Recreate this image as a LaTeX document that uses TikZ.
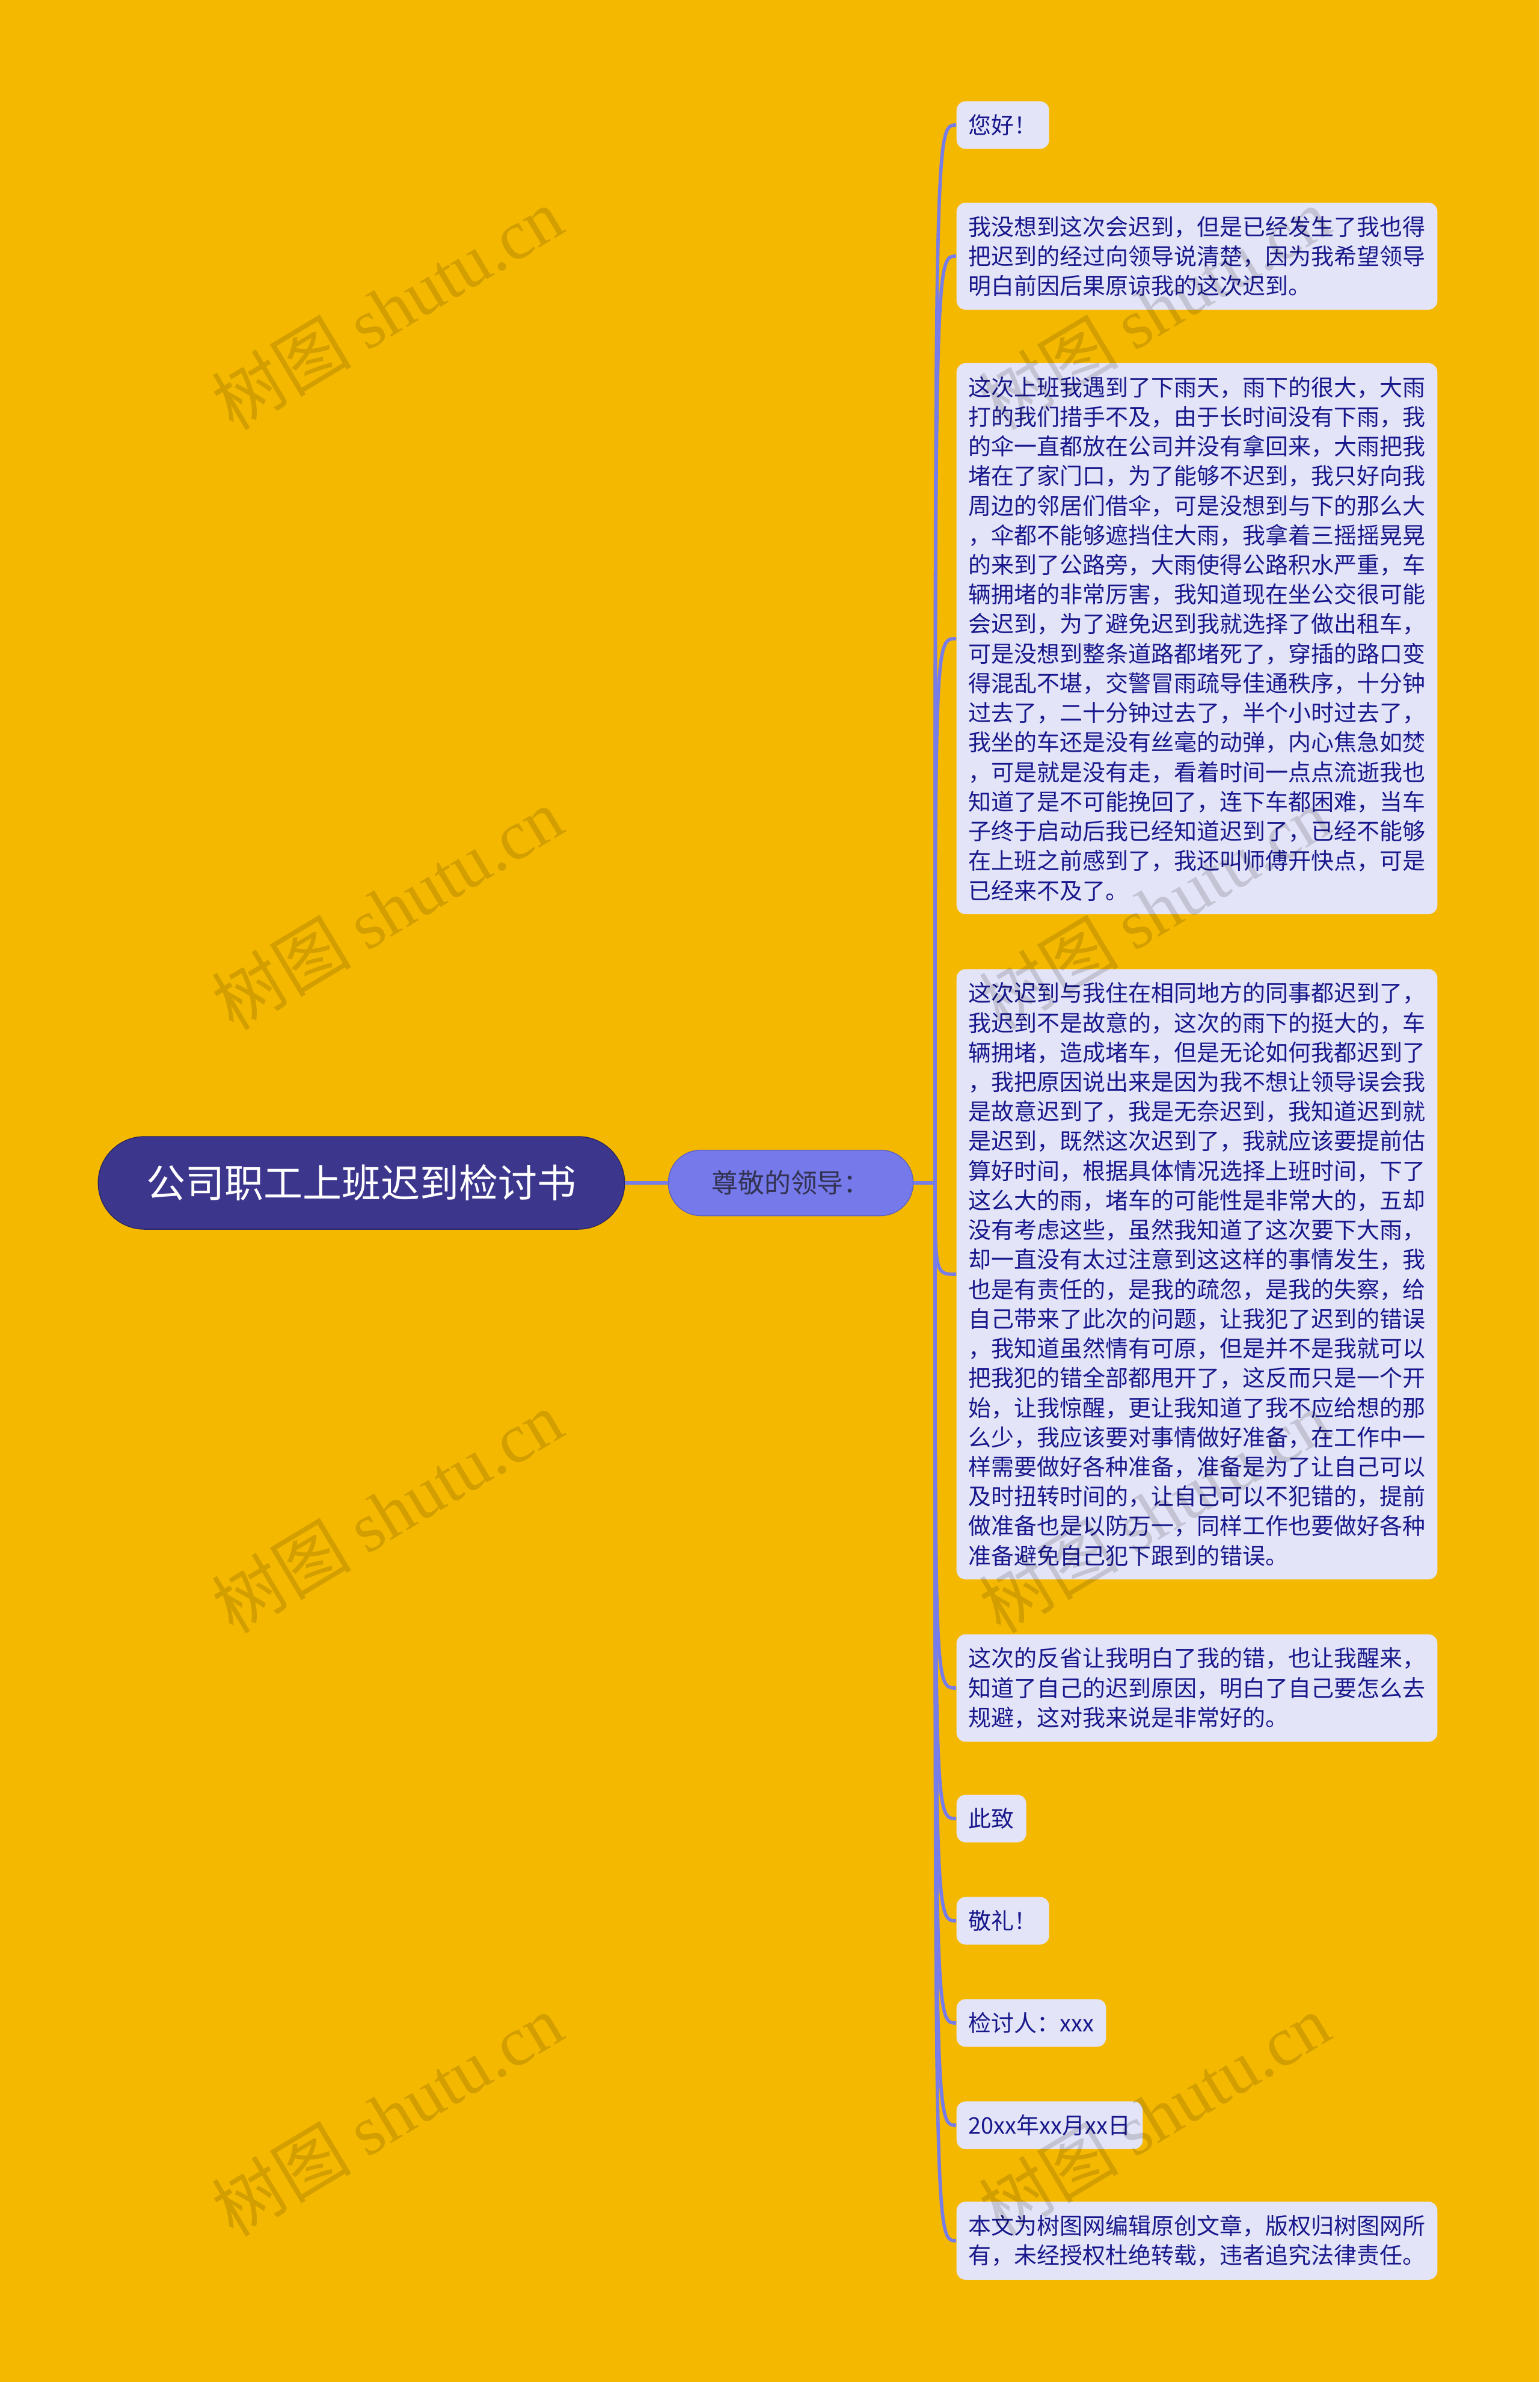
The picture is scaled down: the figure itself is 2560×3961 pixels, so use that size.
\documentclass[tikz,border=0pt]{standalone}
\usepackage{fontspec}
\setmainfont{Noto Sans CJK SC}
\newfontfamily\wmlatin{Liberation Serif}
\usepackage{tikz}
\usetikzlibrary{positioning}

\definecolor{pagebg}{RGB}{245,184,0}
\definecolor{rootbg}{RGB}{60,54,140}
\definecolor{branchbg}{RGB}{117,121,234}
\definecolor{branchtxt}{RGB}{50,50,80}
\definecolor{leafbg}{RGB}{228,228,248}
\definecolor{leaftxt}{RGB}{24,24,140}
\definecolor{linkcol}{RGB}{120,124,230}

\begin{document}
\begin{tikzpicture}[
			x=0.01cm, y=-0.01cm,
			rootnode/.style={fill=rootbg, draw=rootbg!70!black, text=white, inner sep=0pt,
				minimum width=8.75cm, minimum height=1.54cm, rounded corners=0.77cm,
				font=\fontsize{18.5pt}{22pt}\selectfont},
			branchnode/.style={fill=branchbg, draw=branchbg!80!black, text=branchtxt, inner sep=0pt,
				minimum width=4.07cm, minimum height=1.09cm, rounded corners=0.54cm,
				font=\fontsize{12.5pt}{15pt}\selectfont},
			leaf/.style={fill=leafbg, text=leaftxt, anchor=west, align=left,
				inner xsep=0.2cm, inner ysep=0.22cm, rounded corners=0.15cm,
				font=\fontsize{10.8pt}{14pt}\selectfont},
			link/.style={draw=linkcol, line width=1.6pt},
			wmark/.style={rotate=31, text=black, opacity=0.14, font=\fontsize{33pt}{38pt}\selectfont}
			]

			\fill[pagebg] (0,0) rectangle (2560,3961);

			\node[rootnode] (root) at (601,1967) {公司职工上班迟到检讨书};
			\node[branchnode] (lead) at (1315,1967) {尊敬的领导：};
			\coordinate (jn) at (1555,1967);

			\node[leaf] (hello) at (1590,208) {您好！};
			\node[leaf] (p1) at (1590,426) {我没想到这次会迟到，但是已经发生了我也得\\把迟到的经过向领导说清楚，因为我希望领导\\明白前因后果原谅我的这次迟到。};
			\node[leaf] (p2) at (1590,1062) {这次上班我遇到了下雨天，雨下的很大，大雨\\打的我们措手不及，由于长时间没有下雨，我\\的伞一直都放在公司并没有拿回来，大雨把我\\堵在了家门口，为了能够不迟到，我只好向我\\周边的邻居们借伞，可是没想到与下的那么大\\，伞都不能够遮挡住大雨，我拿着三摇摇晃晃\\的来到了公路旁，大雨使得公路积水严重，车\\辆拥堵的非常厉害，我知道现在坐公交很可能\\会迟到，为了避免迟到我就选择了做出租车，\\可是没想到整条道路都堵死了，穿插的路口变\\得混乱不堪，交警冒雨疏导佳通秩序，十分钟\\过去了，二十分钟过去了，半个小时过去了，\\我坐的车还是没有丝毫的动弹，内心焦急如焚\\，可是就是没有走，看着时间一点点流逝我也\\知道了是不可能挽回了，连下车都困难，当车\\子终于启动后我已经知道迟到了，已经不能够\\在上班之前感到了，我还叫师傅开快点，可是\\已经来不及了。};
			\node[leaf] (p3) at (1590,2119) {这次迟到与我住在相同地方的同事都迟到了，\\我迟到不是故意的，这次的雨下的挺大的，车\\辆拥堵，造成堵车，但是无论如何我都迟到了\\，我把原因说出来是因为我不想让领导误会我\\是故意迟到了，我是无奈迟到，我知道迟到就\\是迟到，既然这次迟到了，我就应该要提前估\\算好时间，根据具体情况选择上班时间，下了\\这么大的雨，堵车的可能性是非常大的，五却\\没有考虑这些，虽然我知道了这次要下大雨，\\却一直没有太过注意到这这样的事情发生，我\\也是有责任的，是我的疏忽，是我的失察，给\\自己带来了此次的问题，让我犯了迟到的错误\\，我知道虽然情有可原，但是并不是我就可以\\把我犯的错全部都甩开了，这反而只是一个开\\始，让我惊醒，更让我知道了我不应给想的那\\么少，我应该要对事情做好准备，在工作中一\\样需要做好各种准备，准备是为了让自己可以\\及时扭转时间的，让自己可以不犯错的，提前\\做准备也是以防万一，同样工作也要做好各种\\准备避免自己犯下跟到的错误。};
			\node[leaf] (p4) at (1590,2807) {这次的反省让我明白了我的错，也让我醒来，\\知道了自己的迟到原因，明白了自己要怎么去\\规避，这对我来说是非常好的。};
			\node[leaf] (cizhi) at (1590,3024) {此致};
			\node[leaf] (jingli) at (1590,3194) {敬礼！};
			\node[leaf] (signer) at (1590,3364) {检讨人：xxx};
			\node[leaf] (date) at (1590,3534) {20xx年xx月xx日};
			\node[leaf] (note) at (1590,3726) {本文为树图网编辑原创文章，版权归树图网所\\有，未经授权杜绝转载，违者追究法律责任。};

			% connectors
			\draw[link] (root) -- (lead);
			\draw[link] (lead) -- (jn);
			\foreach \n in {hello,p1,p2,p3,p4,cizhi,jingli,signer,date,note}
				\draw[link] (jn) .. controls (jn |- \n.west) .. (\n.west);

			% watermarks
			\foreach \y in {513,1511,2514,3517} {
				\node[wmark] at (644,\y) {树图 {\wmlatin shutu.cn}};
				\node[wmark] at (1920,\y) {树图 {\wmlatin shutu.cn}};
			}

			\end{tikzpicture}
\end{document}
